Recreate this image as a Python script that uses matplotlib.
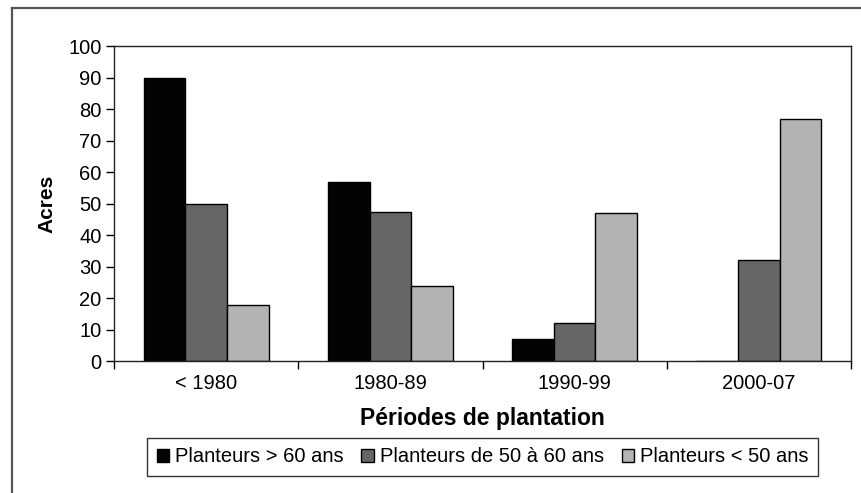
import matplotlib
matplotlib.use("Agg")
import matplotlib.pyplot as plt
import numpy as np
from matplotlib.lines import Line2D

categories = ["< 1980", "1980-89", "1990-99", "2000-07"]
series_names = ["Planteurs > 60 ans", "Planteurs de 50 à 60 ans", "Planteurs < 50 ans"]
over_60 = [90, 57, 7, 0]
from_50_to_60 = [50, 47.5, 12, 32]
under_50 = [18, 24, 47, 77]
colors = ["#030303", "#666666", "#b3b3b3"]

plt.rcParams['font.family'] = ['Liberation Sans', 'DejaVu Sans']

fig = plt.figure(figsize=(8.61, 4.93), dpi=100)
ax = fig.add_axes([114/861, 1-361.3/493, (851-114)/861, (361.3-46.3)/493])

x = np.arange(len(categories))
w = 0.226
for i, (vals, name, c) in enumerate(zip([over_60, from_50_to_60, under_50], series_names, colors)):
    ax.bar(x + (i-1)*w, vals, width=w, color=c, edgecolor="black", linewidth=1, label=name, zorder=2)

ax.set_xlim(-0.5, len(categories)-0.5)
ax.set_ylim(0, 100)
ax.set_yticks(range(0, 101, 10))
ax.tick_params(axis='y', direction='out', length=6, width=1, pad=3, labelsize=14.5)

ax.set_xticks(np.arange(-0.5, len(categories)), labels=[])
ax.set_xticks(x, labels=categories, minor=True)
ax.tick_params(axis='x', which='major', direction='out', length=6, width=1)
ax.tick_params(axis='x', which='minor', length=0, pad=9, labelsize=14.5)

for s in ax.spines.values():
    s.set_linewidth(1)
    s.set_color("#222222")

ax.set_xlabel("Périodes de plantation", fontsize=16.5, fontweight='bold')
ax.xaxis.set_label_coords(0.5, -0.145)
ax.set_ylabel("Acres", fontsize=15, fontweight='bold')
ax.yaxis.set_label_coords(-0.078, 0.5)

leg = fig.legend(loc='center', bbox_to_anchor=(482.5/861, 1-457/493), ncol=3,
                 fontsize=14.5, frameon=True, fancybox=False, edgecolor='black',
                 handlelength=0.6, handleheight=0.6, handletextpad=0.3,
                 columnspacing=0.9, borderpad=0.45, borderaxespad=0)
leg.get_frame().set_linewidth(1)

# figure border (top and left)
fig.add_artist(Line2D([12/861, 12/861], [0, 1-8.3/493], transform=fig.transFigure, color='#555555', lw=1.6))
fig.add_artist(Line2D([12/861, 1], [1-8.3/493, 1-8.3/493], transform=fig.transFigure, color='#555555', lw=1.6))

fig.savefig("out.png", dpi=100)
